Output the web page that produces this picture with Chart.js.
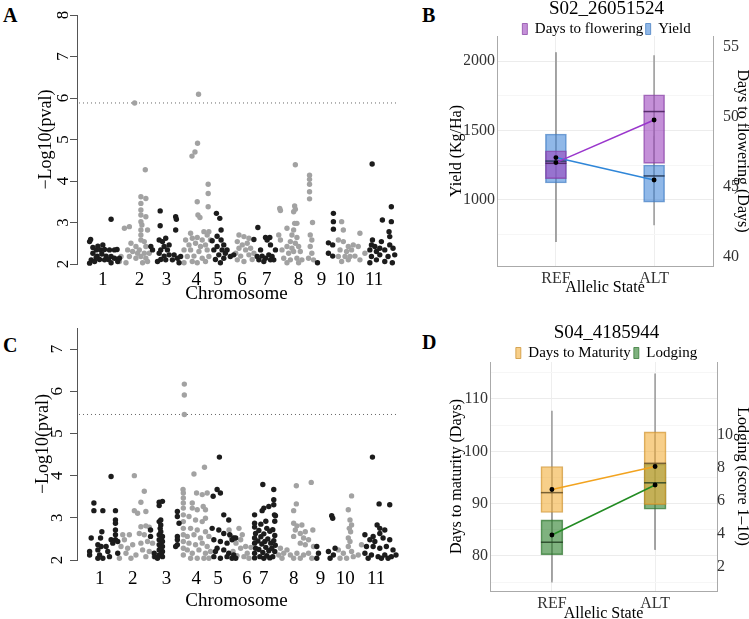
<!DOCTYPE html>
<html>
<head>
<meta charset="utf-8">
<script src="https://cdn.jsdelivr.net/npm/chart.js@4.4.1/dist/chart.umd.min.js"></script>
<style>
body { margin: 0; background: #fff; width: 749px; height: 619px; position: relative; overflow: hidden; font-family: "Liberation Serif", serif; }
canvas { position: absolute; }
.tag { position: absolute; font-weight: bold; font-size: 20px; line-height: 20px; }
</style>
</head>
<body>
<div class="tag" style="left:3px;top:5px">A</div>
<div class="tag" style="left:422px;top:5px">B</div>
<div class="tag" style="left:3px;top:335px">C</div>
<div class="tag" style="left:422px;top:332px">D</div>
<canvas id="chartA" width="400" height="305" style="left:0;top:0"></canvas>
<canvas id="chartB" width="349" height="305" style="left:400px;top:0"></canvas>
<canvas id="chartC" width="400" height="314" style="left:0;top:305px"></canvas>
<canvas id="chartD" width="349" height="320" style="left:400px;top:305px"></canvas>
<script>
// chromosome axis (cumulative marker position, arbitrary units)
const chrLabels = ['1', '2', '3', '4', '5', '6', '7', '8', '9', '10', '11'];
const chrCentersA = [26, 63, 90, 120, 142, 166, 191, 223, 246, 270, 299];
const chrCentersC = [23, 56, 90, 120, 142, 171, 188, 218, 245, 270, 301];

// panel A: [position, -log10(p)]  odd chromosomes black, even grey
const gwasA_odd = [
  [13.7,2.59],[12.7,2.54],[34.3,3.08],[16,2.40],[19.3,2.34],[21,2.43],[26,2.46],[23.7,2.34],[27.7,2.35],[16,2.26],[20.3,2.19],[25,2.24],[29.3,2.19],[32.7,2.34],[34.3,2.18],[37.7,2.34],[40.3,2.35],[14.3,2.10],[17.7,2.06],[22.7,2.11],[27.7,2.10],[31.7,2.11],[37.7,2.14],[42.7,2.14],[41,2.06],[12.7,2.02],[34.3,2.03],[19.3,2.16],
  [83.7,3.28],[83.7,2.92],[99.3,3.14],[100,3.08],[99.3,2.82],[74.3,2.42],[76,2.34],[82.7,2.58],[86,2.54],[89.3,2.62],[87.7,2.42],[84.3,2.34],[92.7,2.46],[91,2.34],[82.7,2.26],[87.7,2.19],[92.7,2.22],[97.7,2.22],[101,2.14],[84.3,2.11],[89.3,2.10],[96,2.10],[102.7,2.03],[81,2.06],[104.3,2.18],
  [140.3,3.22],[143.7,3.10],[145,2.82],[141,2.67],[136,2.56],[145,2.58],[147.7,2.46],[141,2.42],[137.7,2.34],[146,2.34],[149.3,2.26],[142.7,2.22],[147.7,2.14],[139.3,2.11],[144.3,2.03],[154.3,2.18],[151,2.34],[157.7,2.22],
  [182,2.88],[178,2.59],[189.7,2.64],[194,2.64],[191.3,2.58],[194.7,2.46],[184.7,2.34],[181.3,2.18],[186.3,2.19],[189.7,2.14],[193,2.22],[196.3,2.18],[198,2.10],[183,2.10],[188,2.06],[194.7,2.10],[199.7,2.34],
  [242,2.03],[258,3.22],[258,3.02],[258,2.84],[253,2.51],[257.3,2.46],[253,2.26],[257.3,2.19],
  [297,4.41],[316.3,3.38],[307.3,3.06],[316.3,3.02],[314,2.78],[314.7,2.66],[297.3,2.58],[306.3,2.54],[296.3,2.46],[299.7,2.42],[304.7,2.38],[314.7,2.46],[318,2.38],[294.7,2.34],[301.3,2.30],[309.7,2.34],[296.3,2.18],[304.7,2.22],[313,2.18],[319.7,2.22],[294.7,2.03],[301.3,2.10],[309.7,2.06],[317.3,2.03]
];
const gwasA_even = [
  [58,5.88],[68.7,4.27],[64.3,3.62],[69.3,3.58],[64.3,3.46],[64.3,3.30],[69.3,3.14],[64.3,3.18],[64.3,3.02],[65.3,2.94],[64.3,2.82],[71,2.82],[64.3,2.70],[52.7,2.90],[47.7,2.86],[54.3,2.50],[59.3,2.42],[64.3,2.58],[67.7,2.54],[69.3,2.42],[51,2.34],[56,2.30],[62.7,2.34],[67.7,2.26],[72.7,2.26],[44.3,2.18],[52.7,2.18],[59.3,2.14],[64.3,2.18],[69.3,2.14],[42.7,2.06],[49.3,2.03],[66,2.03],[71,2.06],[61,2.26],
  [122.3,6.09],[121.3,4.91],[118.7,4.70],[115.7,4.60],[132,3.92],[132,3.70],[132,3.38],[121,3.50],[121.7,3.18],[123.7,3.12],[114.3,2.74],[127.7,2.78],[132.7,2.78],[131,2.70],[109.3,2.58],[116,2.62],[121,2.64],[126,2.58],[112.7,2.46],[119.3,2.50],[124.3,2.42],[129.3,2.46],[107.7,2.34],[114.3,2.34],[122.7,2.30],[131,2.34],[111,2.18],[117.7,2.19],[126,2.14],[132.7,2.18],[107.7,2.03],[116,2.06],[121,2.03],[129.3,2.06],[134.3,2.58],
  [163,2.70],[168,2.66],[173,2.62],[161.3,2.54],[166.3,2.46],[171.3,2.50],[163,2.38],[169.7,2.34],[174.7,2.38],[159.7,2.26],[164.7,2.19],[173,2.22],[161.3,2.10],[168,2.06],[176.3,2.11],[178,2.26],
  [219.7,4.39],[234,4.14],[234,4.04],[234,3.92],[234,3.74],[234,3.57],[204,3.34],[204.7,3.29],[219,3.40],[219.7,3.32],[218,3.26],[237,3.00],[211.3,2.86],[219,2.98],[221.3,2.98],[218,2.82],[203,2.70],[204.7,2.58],[216.3,2.70],[221.3,2.64],[214.7,2.54],[219.7,2.50],[234.7,2.70],[236.3,2.58],[211.3,2.42],[216.3,2.38],[223,2.42],[234.7,2.42],[206.3,2.34],[213,2.26],[218,2.30],[224.7,2.30],[236.3,2.26],[208,2.14],[214.7,2.10],[221.3,2.14],[226.3,2.10],[233,2.14],[238,2.10],[211.3,2.03],[223,2.03],
  [266.3,3.02],[268,2.82],[263,2.58],[268,2.54],[284.7,2.74],[273,2.42],[278,2.46],[264.7,2.34],[271.3,2.30],[276.3,2.34],[283,2.42],[263,2.18],[269.7,2.18],[274.7,2.18],[279.7,2.19],[266.3,2.06],[273,2.10],[284.7,2.10],[289.7,2.26]
];
const gwasA_threshold = 5.88;

// panel C
const gwasC_odd = [
  [34.3,3.98],[17,3.35],[17,3.17],[26,3.17],[38.7,3.17],[38.7,2.95],[38.7,2.87],[14.3,2.52],[23.7,2.52],[25,2.67],[34.3,2.48],[38.7,2.71],[38.7,2.60],[38.7,2.48],[21,2.36],[24.3,2.32],[29.3,2.32],[36,2.40],[41,2.44],[12.7,2.20],[12.7,2.12],[21,2.24],[22.7,2.12],[31,2.20],[21,2.04],[26,2.04],[32.7,2.08],[41,2.16],
  [74,2.71],[74,2.56],[82.7,3.37],[86,3.39],[82.7,3.29],[82.7,2.91],[84.3,2.83],[83.7,2.75],[84.3,2.67],[82.7,2.60],[86,2.56],[82.7,2.48],[86,2.44],[82.7,2.36],[86,2.32],[82.7,2.24],[86,2.20],[82.7,2.12],[86,2.08],[81,2.04],[77.7,2.16],[78.3,2.08],[101,3.15],[101,3.03],[102.7,2.87],[101,2.56],[101,2.48],[101,2.36],[99.3,2.32],[84.3,2.95],[85,2.50],[84,2.28],[85,2.15],
  [143.3,4.44],[141,3.67],[137,3.51],[144.3,3.59],[147.7,3.07],[152.7,2.95],[136,2.75],[142.7,2.71],[147.7,2.63],[153.7,2.60],[157.7,2.52],[137.7,2.48],[144.3,2.44],[151,2.40],[156,2.48],[141,2.28],[147.7,2.24],[152.7,2.16],[157.7,2.12],[137.7,2.08],[144.3,2.04],[151,2.08],[156,2.04],[139.3,2.20],[159.7,2.52],[159.7,2.04],
  [187,3.79],[198,3.67],[198,3.43],[198,3.31],[193,3.27],[188,3.23],[186.3,3.17],[198.7,3.07],[199.7,3.05],[178.7,3.07],[178.7,2.87],[178.7,2.78],[179.7,2.63],[178.7,2.52],[178.7,2.40],[179.7,2.28],[178.7,2.16],[178.7,2.05],[183,2.70],[185,2.55],[188,2.62],[191,2.75],[194,2.68],[197,2.72],[199,2.58],[182,2.45],[186,2.38],[189,2.44],[192,2.50],[195,2.40],[198,2.46],[183,2.25],[187,2.18],[190,2.30],[193,2.22],[196,2.28],[199,2.20],[184,2.08],[188,2.04],[191,2.10],[194,2.05],[197,2.08],[199.5,2.35],[199,2.92],[190,2.92],[185,2.85],
  [241.3,2.32],[241.3,2.04],[243,2.16],[256.3,3.05],[257.3,2.99],[253,2.20],[254.7,2.04],[259.7,2.28],[258,2.12],
  [297.3,4.44],[304,3.33],[314.7,3.31],[302,2.83],[304.7,2.75],[289.7,2.60],[298,2.56],[304.7,2.63],[309.7,2.71],[294.7,2.48],[299.7,2.44],[308,2.52],[314.7,2.48],[291.3,2.32],[298,2.32],[304.7,2.28],[311.3,2.32],[318,2.24],[289.7,2.16],[296.3,2.12],[303,2.08],[309.7,2.12],[316.3,2.08],[321,2.12],[293,2.04],[306.3,2.04],[313,2.04]
];
const gwasC_even = [
  [57.7,4.00],[67.7,3.63],[64.3,3.37],[57.7,3.17],[61,3.11],[69.3,3.15],[52.7,2.60],[47.7,2.48],[64.3,2.79],[69.3,2.81],[72.7,2.78],[62.7,2.63],[67.7,2.60],[44.3,2.32],[51,2.28],[56,2.36],[64.3,2.40],[71,2.44],[76,2.40],[42.7,2.04],[49.3,2.16],[59.3,2.12],[66,2.24],[72.7,2.20],[54.3,2.04],[69.3,2.08],[77.7,2.08],[46,2.60],
  [108,6.17],[108,5.91],[108,5.45],[106.7,3.67],[107,3.59],[107,3.47],[107,3.35],[107,3.23],[107,3.07],[107,2.91],[107,2.75],[107,2.60],[107,2.44],[107,2.28],[107,2.12],[117.7,4.04],[128.3,4.20],[120.3,3.59],[126,3.55],[131,3.59],[116,3.35],[116,3.23],[121,3.19],[127,3.27],[129.3,3.19],[112.7,3.03],[119.3,2.95],[126,2.91],[129.3,2.99],[114.3,2.75],[121,2.71],[129.3,2.67],[111,2.56],[117.7,2.60],[124.3,2.52],[132.7,2.56],[112.7,2.40],[119.3,2.36],[126,2.40],[131,2.32],[111,2.24],[116,2.16],[122.7,2.24],[129.3,2.16],[134.3,2.20],[114.3,2.04],[121,2.04],[127.7,2.04],[132.7,2.04],
  [163,2.75],[166.3,2.60],[164.7,2.48],[169.7,2.32],[164.7,2.28],[171.3,2.16],[168,2.08],[173,2.04],[153,2.71],[155,2.56],[160,2.40],[157,2.20],[161,2.10],[175,2.30],
  [220.7,3.76],[235.7,3.84],[220.7,3.33],[218,3.17],[218,2.87],[221.3,2.81],[226.3,2.83],[219.7,2.71],[224.7,2.63],[229.7,2.67],[237.3,2.71],[218,2.56],[228,2.52],[233,2.48],[204.7,2.28],[211.3,2.24],[224.7,2.40],[229.7,2.36],[238,2.32],[203,2.12],[208,2.16],[214.7,2.12],[221.3,2.16],[228,2.12],[233,2.16],[206.3,2.04],[218,2.04],[224.7,2.04],[236.3,2.04],
  [276.3,3.52],[273,3.19],[274.7,2.95],[276.3,2.83],[274,2.75],[275.3,2.67],[273,2.52],[274.7,2.44],[263,2.24],[268,2.16],[273,2.32],[276.3,2.20],[264.7,2.04],[271.3,2.04],[278,2.08],[283,2.12],[286.3,2.36]
];
const gwasC_threshold = 5.45;

// panel B: S02_26051524  (box = [q1, q3], range = whisker ends)
const alleles = ['REF', 'ALT'];
const bFlowerBox = [[45.6, 47.6], [46.7, 51.6]];
const bFlowerMed = [46.7, 50.4];
const bFlowerMean = [46.75, 49.8];
const bFlowerRange = [[41.1, 54.6], [44.0, 54.4]];
const bYieldBox = [[1122, 1475], [985, 1252]];
const bYieldMed = [1280, 1173];
const bYieldMean = [1305, 1144];
const bYieldRange = [[700, 2060], [820, 1460]];

// panel D: S04_4185944
const dMatBox = [[88.3, 97.1], [89.8, 103.7]];
const dMatMed = [92.1, 97.7];
const dMatMean = [92.7, 97.1];
const dMatRange = [[75, 107.7], [81.2, 114.8]];
const dLodBox = [[2.73, 4.85], [5.5, 8.24]];
const dLodMed = [3.5, 7.1];
const dLodMean = [3.94, 6.97];
const dLodRange = [[1.2, 8], [3.1, 10]];

Chart.defaults.font.family = '"Liberation Serif", "Times New Roman", serif';
Chart.defaults.color = '#000';
Chart.defaults.animation = false;

// base R style: y tick labels turned parallel to the axis
const rotTicks = {
  id: 'rotTicks',
  afterDraw(chart, args, o) {
    const s = chart.scales.y, ctx = chart.ctx;
    ctx.save();
    ctx.font = '17px "Liberation Serif", serif';
    ctx.fillStyle = '#000';
    ctx.textAlign = 'center';
    ctx.textBaseline = 'middle';
    s.ticks.forEach(t => {
      ctx.save();
      ctx.translate(o.x, s.getPixelForValue(t.value));
      ctx.rotate(-Math.PI / 2);
      ctx.fillText(String(t.value), 0, 0);
      ctx.restore();
    });
    ctx.restore();
  }
};

const posMax = 321;

function manhattan(id, odd, even, thr, yMax, centers, o) {
  const font = {size: 19};
  new Chart(document.getElementById(id), {
    type: 'scatter',
    data: {
      datasets: [
        {data: odd.map(p => ({x: p[0], y: p[1]})), backgroundColor: '#1c1c1c', pointRadius: 2.7, pointBorderWidth: 0, clip: false},
        {data: even.map(p => ({x: p[0], y: p[1]})), backgroundColor: '#a2a2a2', pointRadius: 2.7, pointBorderWidth: 0, clip: false},
        {type: 'line', data: [{x: 2, y: thr}, {x: posMax, y: thr}], borderColor: '#666', borderWidth: 1, borderDash: [1, 3], pointRadius: 0}
      ]
    },
    options: {
      responsive: false,
      layout: {padding: {top: o.top, right: 2, left: 0, bottom: 0}},
      plugins: {legend: {display: false}, tooltip: {enabled: false}, rotTicks: {x: o.tickX}},
      scales: {
        x: {
          type: 'linear', min: 0, max: posMax,
          grid: {display: false}, border: {display: false},
          afterBuildTicks: s => { s.ticks = centers.map(v => ({value: v})); },
          ticks: {autoSkip: false, maxRotation: 0, font, padding: o.xPad, callback: (v, i) => chrLabels[i]},
          title: {display: true, text: 'Chromosome', font, padding: {top: 0, bottom: o.titlePad}},
          afterFit: s => { s.height = o.xH; }
        },
        y: {
          min: 2, max: yMax,
          ticks: {stepSize: 1, includeBounds: false, display: false},
          grid: {drawOnChartArea: false, tickLength: 7, color: '#555'},
          border: {color: '#555'},
          title: {display: true, text: '−Log10(pval)', font: {size: 18}, padding: {top: o.yTitlePad, bottom: 0}},
          afterFit: s => { s.width = 77; }
        }
      }
    },
    plugins: [rotTicks]
  });
}

manhattan('chartA', gwasA_odd, gwasA_even, gwasA_threshold, 8, chrCentersA,
  {top: 15, tickX: 64, xPad: -3, xH: 41, titlePad: 0, yTitlePad: 35});
manhattan('chartC', gwasC_odd, gwasC_even, gwasC_threshold, 7.5, chrCentersC,
  {top: 23, tickX: 58, xPad: 0, xH: 59, titlePad: 7, yTitlePad: 32});

function boxPanel(id, p) {
  const pts = arr => arr.map((v, i) => ({x: i + 1, y: v}));
  const ax = {size: 16};
  const bw = p.bw;
  new Chart(document.getElementById(id), {
    type: 'bar',
    data: {
      datasets: [
        {label: p.names[0], data: pts(p.box[0]), yAxisID: p.axes[0], backgroundColor: p.fill[0], borderColor: p.edge[0], borderWidth: 1, borderSkipped: false, barThickness: bw, grouped: false, order: 2},
        {label: p.names[1], data: pts(p.box[1]), yAxisID: p.axes[1], backgroundColor: p.fill[1], borderColor: p.edge[1], borderWidth: 1, borderSkipped: false, barThickness: bw, grouped: false, order: 3},
        {label: 'w0', data: pts(p.range[0]), yAxisID: p.axes[0], backgroundColor: '#a0a0a0', barThickness: 1, grouped: false, order: 5},
        {label: 'w1', data: pts(p.range[1]), yAxisID: p.axes[1], backgroundColor: '#a0a0a0', barThickness: 1, grouped: false, order: 5},
        {type: 'line', label: 'm0', data: pts(p.med[0]), yAxisID: p.axes[0], showLine: false, pointStyle: 'line', pointRadius: bw / 2, pointBorderColor: p.medc[0], pointBorderWidth: 1.5, order: 1},
        {type: 'line', label: 'm1', data: pts(p.med[1]), yAxisID: p.axes[1], showLine: false, pointStyle: 'line', pointRadius: bw / 2, pointBorderColor: p.medc[1], pointBorderWidth: 1.5, order: 1},
        {type: 'line', label: 'a0', data: pts(p.mean[0]), yAxisID: p.axes[0], borderColor: p.line[0], borderWidth: 1.5, pointRadius: 1.7, pointBackgroundColor: '#000', pointBorderColor: '#000', order: 0},
        {type: 'line', label: 'a1', data: pts(p.mean[1]), yAxisID: p.axes[1], borderColor: p.line[1], borderWidth: 1.5, pointRadius: 1.7, pointBackgroundColor: '#000', pointBorderColor: '#000', order: 0}
      ]
    },
    options: {
      responsive: false,
      layout: {padding: {left: 64, top: p.padTop, right: 0, bottom: 0}},
      plugins: {
        tooltip: {enabled: false},
        title: {display: true, text: p.title, font: {size: 19, weight: 'normal', lineHeight: 1}, padding: {top: 0, bottom: 0}},
        legend: {maxHeight: p.legH, labels: {boxWidth: 5, boxHeight: 11, font: {size: 15}, padding: p.legPad, filter: it => it.datasetIndex < 2}}
      },
      scales: {
        x: {
          type: 'linear', min: 0.4, max: 2.6, offset: false,
          afterBuildTicks: s => { s.ticks = [{value: 1}, {value: 2}]; },
          ticks: {autoSkip: false, maxRotation: 0, font: ax, color: '#333', padding: p.xPad, callback: (v, i) => alleles[i]},
          grid: {color: '#eeeeee', drawTicks: false, offset: false},
          border: {color: '#aaa'},
          title: {display: true, text: 'Allelic State', font: ax, padding: {top: 0, bottom: p.xTitlePad}},
          afterFit: s => { s.height = p.xH; }
        },
        y: {
          position: 'left', min: p.yl[0], max: p.yl[1],
          ticks: {stepSize: p.yl[2] / 2, includeBounds: false, font: ax, color: '#333', padding: 2,
            callback: v => (v % p.yl[2] === 0 ? v : '')},
          grid: {drawTicks: false, color: c => (c.tick && c.tick.value % p.yl[2] === 0 ? '#ececec' : '#f6f6f6')},
          border: {color: '#aaa'},
          title: {display: true, text: p.yTitle[0], font: ax, padding: {top: -17, bottom: 0}},
          afterFit: s => { s.width = p.leftW; }
        },
        y1: {
          position: 'right', min: p.yr[0], max: p.yr[1],
          afterBuildTicks: s => { s.ticks = s.ticks.filter(t => t.value <= p.yr[3]); },
          ticks: {stepSize: p.yr[2], includeBounds: false, font: ax, color: '#333', padding: p.rPad},
          grid: {drawOnChartArea: false, drawTicks: false},
          border: {color: '#aaa'},
          title: {display: true, text: p.yTitle[1], font: {size: 16, lineHeight: 1}, padding: {top: -1, bottom: 0}},
          afterFit: s => { s.width = p.rightW; }
        }
      }
    }
  });
}

boxPanel('chartB', {
  title: 'S02_26051524', names: ['Days to flowering', 'Yield'], axes: ['y1', 'y'], bw: 21,
  box: [bFlowerBox, bYieldBox], med: [bFlowerMed, bYieldMed], mean: [bFlowerMean, bYieldMean], range: [bFlowerRange, bYieldRange],
  fill: ['rgba(157,70,190,0.6)', 'rgba(70,137,217,0.6)'], edge: ['rgba(130,60,160,0.7)', 'rgba(60,120,190,0.7)'],
  medc: ['rgba(70,30,90,0.85)', 'rgba(30,50,80,0.85)'], line: ['#9a36cc', '#2f86d8'],
  yl: [525, 2180, 500], yr: [39.36, 55.8, 5, 55], yTitle: ['Yield (Kg/Ha)', 'Days to flowering (Days)'],
  padTop: 0, legH: 17, legPad: 2.5, leftW: 33, rightW: 36, rPad: 10, xPad: 3, xH: 39, xTitlePad: 8
});

boxPanel('chartD', {
  title: 'S04_4185944', names: ['Days to Maturity', 'Lodging'], axes: ['y', 'y1'], bw: 22,
  box: [dMatBox, dLodBox], med: [dMatMed, dLodMed], mean: [dMatMean, dLodMean], range: [dMatRange, dLodRange],
  fill: ['rgba(242,175,60,0.6)', 'rgba(42,127,42,0.6)'], edge: ['rgba(200,140,40,0.7)', 'rgba(40,110,40,0.7)'],
  medc: ['rgba(90,70,30,0.8)', 'rgba(30,60,30,0.8)'], line: ['#f2a31f', '#228b22'],
  yl: [73.3, 117.07, 10], yr: [0.545, 14.42, 2, 10], yTitle: ['Days to maturity (Days)', 'Lodging (score 1–10)'],
  padTop: 18.5, legH: 19.5, legPad: 3, leftW: 26, rightW: 32, rPad: 0, xPad: 3, xH: 34, xTitlePad: 2
});
</script>
</body>
</html>
